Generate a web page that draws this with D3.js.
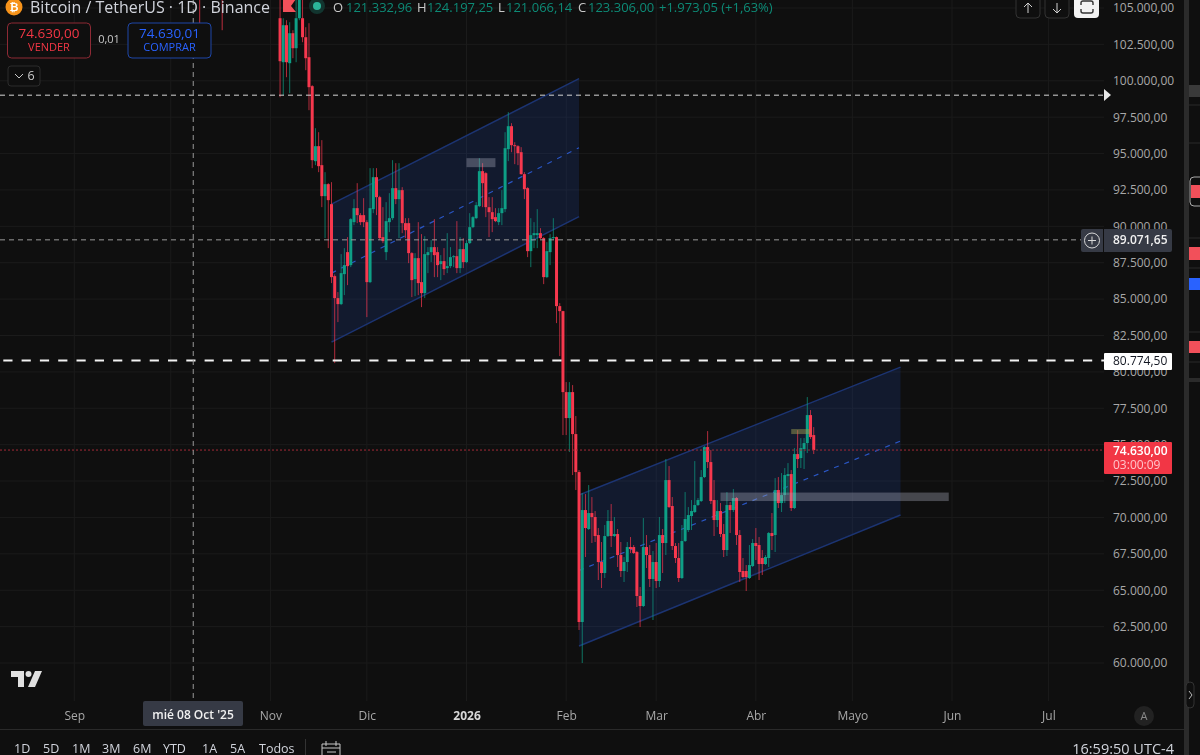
<!DOCTYPE html>
<html>
<head>
<meta charset="utf-8">
<script src="https://cdn.jsdelivr.net/npm/d3@7"></script>
<style>
html, body { margin: 0; padding: 0; background: #0f0f0f; overflow: hidden; }
svg { display: block; font-family: "Open Sans", sans-serif; filter: blur(0.3px); }
.domain { display: none; }
</style>
</head>
<body>
<svg id="chart" width="1200" height="755"></svg>
<script>
// daily candles, first one is 4 Nov 2025
const firstCandle = "2025-11-04";
const opens = [
  104299,101276,103818,101208,103268,102238,104299,104299,102994,101620,
  99629,94477,95507,94203,92074,92898,91524,86579,85068,84656,
  86716,88227,87335,90288,91249,90769,90769,90288,86167,91181,
  93378,92005,89258,88227,90288,90562,92623,91868,92486,90219,
  90219,88159,86373,87815,86167,85412,88021,88227,88571,88227,
  87403,87609,87129,87266,87884,87950,87129,88434,87541,88846,
  89944,90562,91387,93791,93653,91318,90975,90631,90288,90906,
  91181,95302,96881,95576,95507,95095,93585,92623,88296,89395,
  89395,89532,89189,86510,88227,89189,89258,84519,84175,78612,
  76827,78612,75728,73118,62816,70508,69203,70302,70027,68791,
  66937,66181,68722,69753,68722,68860,67417,66319,66937,67967,
  67967,67623,64602,63915,67967,67417,65769,66937,65632,68791,
  68242,72568,70783,68036,67211,65838,68379,69135,70096,70371,
  70851,71126,72775,74835,73805,71195,69821,70439,68860,67761,
  70851,70508,71332,68791,66319,66319,65838,66662,68242,68104,
  67211,66799,67211,68928,68791,71882,70989,71538,72843,72980,
  70645,74354,74080,74698,75110,77033,75659
];
const highs = [
  106000,104299,104161,104024,103474,105800,106500,106000,103680,103955,
  99698,96744,96469,95920,93722,92966,93035,86700,85480,88090,
  88502,89258,90562,91868,92966,90906,91936,90425,93997,93997,
  93997,92100,91318,91661,92280,94546,94340,94340,92692,90562,
  90562,88227,88159,90288,89464,89326,88571,89052,90494,88571,
  88021,88502,89532,88571,88021,90357,89258,89189,89052,90906,
  90700,91661,94683,94340,93722,92005,92005,91249,91249,92486,
  96469,97843,97087,95782,95576,95439,93722,92692,90562,90288,
  91181,89875,89258,88914,89464,90562,89300,84725,84200,79299,
  79299,79093,76964,73255,71676,71607,72225,71401,70439,69272,
  68310,69478,70508,70920,70027,69203,68310,67280,68310,68654,
  68104,67692,65220,69959,68791,68104,67692,68242,70027,69203,
  74011,73530,71401,68242,68242,69478,71744,70714,71195,73873,
  71332,73255,74904,75934,74629,72568,71195,70989,69547,71744,
  71057,71950,71401,69135,67211,66730,68104,68516,69272,68654,
  67761,67417,68997,70302,72706,72775,73049,73393,73736,73255,
  74766,76002,75453,75453,78269,77376,76208
];
const lows = [
  98873,99010,100246,99148,101551,101276,104161,102650,100727,97980,
  93997,94203,93722,91318,89189,88502,86098,80604,83420,84587,
  85274,85961,87197,90082,90219,90082,89944,83763,86098,90906,
  90769,89052,88846,87678,89601,90425,91524,89189,89532,89189,
  87472,85137,85205,85274,84450,85068,86785,87541,86510,86510,
  86304,86648,86785,87129,87197,86785,86785,87129,87472,88777,
  89875,90494,91318,91318,90631,89258,89601,90288,90082,90082,
  90975,94477,95095,94271,94203,93550,91868,87884,87197,88502,
  88502,89120,86029,86441,87335,89052,83351,81085,75659,75659,
  74491,72912,71882,62266,60000,67280,69135,68242,68310,65700,
  65151,65838,68654,67967,68654,66593,65906,65563,66250,67555,
  67486,63846,62472,63846,66525,65220,62953,65151,65220,66181,
  67417,70645,67761,66868,65563,65769,68310,68997,69135,70302,
  70783,71057,72706,73393,70920,68722,69340,68654,67280,67349,
  68928,70371,68104,65563,65850,64945,65769,66593,67074,65700,
  66044,66730,66593,67761,67623,70645,70371,70989,71538,70439,
  70576,73393,73393,73324,74423,75384,74354
];
const closes = [
  101345,103818,101276,103268,102238,104299,105700,102994,101551,99560,
  94546,95507,94134,92074,92898,91799,86510,85068,84656,86785,
  87335,87266,90494,91249,90769,90288,90288,86167,91249,93378,
  92005,89189,88983,90357,90562,92623,91868,92486,90219,89738,
  88159,86304,87815,86098,85412,88090,88227,88571,88021,87335,
  87609,87060,87266,87884,87950,87129,88434,87541,88846,89944,
  90631,91455,93791,92966,91318,90975,90494,90357,90906,91249,
  95370,96881,95576,95507,95027,93585,92554,88296,89395,89532,
  89532,89189,86510,88296,89189,89258,84519,84175,78612,76827,
  78612,75728,73118,62816,70508,69272,70302,70027,68722,66937,
  66181,68722,69753,68722,68860,67417,66319,66937,67967,67830,
  67555,64602,63915,67967,67417,65769,66937,65632,68791,68242,
  72568,70714,68036,67211,65838,68379,69890,70165,70439,70851,
  71195,72775,74835,73805,71126,69821,70439,68860,67761,70851,
  70508,71332,68791,66250,65906,65906,66730,68242,68036,66799,
  66799,67280,68928,68722,71882,70989,71538,72912,72980,70645,
  74354,74011,74766,75110,77033,75522,74630
];
// wicks of older candles that hang down into the chart
const olderDates = ["2025-10-10", "2025-10-17"];
const olderLows = [102000, 103474];

const priceTicks = [60000,62500,65000,67500,70000,72500,75000,77500,80000,82500,85000,87500,90000,92500,95000,97500,100000,102500,105000];
const monthTicks = ["2025-09-01","2025-11-01","2025-12-01","2026-01-01","2026-02-01","2026-03-01","2026-04-01","2026-05-01","2026-06-01","2026-07-01"];
const gridMonths = ["2025-09-01","2025-10-01","2025-11-01","2025-12-01","2026-01-01","2026-02-01","2026-03-01","2026-04-01","2026-05-01","2026-06-01","2026-07-01"];
const monthLabels = ["Sep","Nov","Dic","2026","Feb","Mar","Abr","Mayo","Jun","Jul"];

// drawings, [start date, end date] and prices at both ends
const channelDates = [["2025-11-20","2026-02-05"],["2026-02-05","2026-05-16"]];
const channelTop = [[91524,100143],[71538,80329]];
const channelBottom = [[82046,90666],[61168,70165]];
const boxDates = [["2026-01-01","2026-01-10"],["2026-03-21","2026-05-31"],["2026-04-12","2026-04-18"]];
const boxPrices = [[94683,94065],[71710,71126],[76071,75728]];
const boxFills = ["#a9adbd","#a9adbd","#9a9a50"];

const dottedPrice = 99011;
const crosshairPrice = 89071.65;
const crosshairDate = "2025-10-08";
const alertPrice = 80774.5;
const lastPrice = 74630;

const rangeButtons = ["1D","5D","1M","3M","6M","YTD","1A","5A","Todos"];
const rangeX = [14,43,72,102,133,163,202,230,259];

const BG = "#0f0f0f", GRID = "#1b1b1b", UP = "#0e9f86", DOWN = "#f7384e", AXIS = "#a8a8a8";
const parse = d3.utcParse("%Y-%m-%d");
const locale = d3.formatLocale({decimal: ",", thousands: ".", grouping: [3], currency: ["", ""]});
const fmt = locale.format(",.2f");

const svg = d3.select("#chart");
const x = d3.scaleUtc().domain([parse("2025-09-01"), parse("2026-07-01")]).range([74.3, 1048.4]);
const y = d3.scaleLinear().domain([60000, 105000]).range([663, 8]);
const plotRight = 1104;

function text(parent, tx, ty, str, size, color, anchor, weight){
    return parent.append("text").attr("x", tx).attr("y", ty).attr("dy", "0.35em")
        .attr("text-anchor", anchor || "start").attr("font-size", size)
        .attr("font-weight", weight || 400).attr("fill", color).text(str);
}

function drawGrid(){
    let g = svg.append("g");
    g.selectAll(".h").data(priceTicks).enter().append("line")
        .attr("x1", 0).attr("x2", plotRight).attr("y1", d=>y(d)).attr("y2", d=>y(d)).attr("stroke", GRID);
    g.selectAll(".v").data(gridMonths).enter().append("line")
        .attr("x1", d=>x(parse(d))).attr("x2", d=>x(parse(d))).attr("y1", 0).attr("y2", 701).attr("stroke", GRID);
}

function drawChannels(){
    let g = svg.append("g");
    channelDates.forEach((dates, i)=>{
        let x0 = x(parse(dates[0])), x1 = x(parse(dates[1]));
        let t = channelTop[i], b = channelBottom[i];
        g.append("polygon")
            .attr("points", [[x0,y(t[0])],[x1,y(t[1])],[x1,y(b[1])],[x0,y(b[0])]].join(" "))
            .attr("fill", "#2962ff").attr("fill-opacity", 0.13);
        [t, b].forEach(p=>{
            g.append("line").attr("x1", x0).attr("x2", x1).attr("y1", y(p[0])).attr("y2", y(p[1]))
                .attr("stroke", "#1c3472").attr("stroke-width", 1.5);
        });
        g.append("line").attr("x1", x0).attr("x2", x1)
            .attr("y1", y((t[0]+b[0])/2)).attr("y2", y((t[1]+b[1])/2))
            .attr("stroke", "#2a56c4").attr("stroke-width", 1.2).attr("stroke-dasharray", "5 6");
    });
}

function drawCandles(){
    const start = parse(firstCandle);
    let data = closes.map((c, i)=>({date: d3.utcDay.offset(start, i), o: opens[i], h: highs[i], l: lows[i], c: c}));
    let g = svg.append("g");
    let older = svg.append("g");
    olderDates.forEach((d, i)=>{
        older.append("line").attr("x1", x(parse(d))).attr("x2", x(parse(d)))
            .attr("y1", y(110000)).attr("y2", y(olderLows[i]))
            .attr("stroke", DOWN).attr("stroke-opacity", 0.75);
    });
    let c = g.selectAll("g").data(data).enter().append("g");
    c.append("line")
        .attr("x1", d=>x(d.date)).attr("x2", d=>x(d.date))
        .attr("y1", d=>y(d.h)).attr("y2", d=>y(d.l))
        .attr("stroke", d=>d.c>=d.o ? UP : DOWN).attr("stroke-opacity", 0.7);
    c.append("rect")
        .attr("x", d=>x(d.date)-1.5).attr("width", 3)
        .attr("y", d=>y(Math.max(d.o, d.c)))
        .attr("height", d=>Math.max(1, Math.abs(y(d.o)-y(d.c))))
        .attr("fill", d=>d.c>=d.o ? UP : DOWN);
}

function drawBoxes(){
    boxDates.forEach((dates, i)=>{
        let x0 = x(parse(dates[0])), x1 = x(parse(dates[1]));
        svg.append("rect").attr("x", x0).attr("width", x1-x0)
            .attr("y", y(boxPrices[i][0])).attr("height", y(boxPrices[i][1])-y(boxPrices[i][0]))
            .attr("fill", boxFills[i]).attr("fill-opacity", i==2 ? 0.5 : 0.36);
    });
}

function drawLevels(){
    function level(price, x2, color, width, dash, offset){
        svg.append("line").attr("x1", 0).attr("x2", x2).attr("y1", y(price)).attr("y2", y(price))
            .attr("stroke", color).attr("stroke-width", width).attr("stroke-dasharray", dash)
            .attr("stroke-dashoffset", offset || 0);
    }
    level(dottedPrice, 1103, "#d8d8d8", 1, "5 4");
    level(crosshairPrice, 1081, "#9a9a9a", 1, "5 4");
    level(alertPrice, plotRight, "#f2f2f2", 2, "9.2 9.1", 15);
    level(lastPrice, plotRight, "#a52a38", 1, "2 2");
    svg.append("line").attr("x1", x(parse(crosshairDate))).attr("x2", x(parse(crosshairDate)))
        .attr("y1", 0).attr("y2", 701).attr("stroke", "#9a9a9a").attr("stroke-dasharray", "5 4");
}

function drawAxes(){
    // panel behind the axes so that candles above never run into them
    svg.append("rect").attr("x", plotRight).attr("y", 0).attr("width", 96).attr("height", 755).attr("fill", BG);
    svg.append("rect").attr("x", 0).attr("y", 701).attr("width", 1200).attr("height", 54).attr("fill", BG);

    let yAxis = d3.axisRight(y).tickValues(priceTicks).tickSize(0).tickPadding(0).tickFormat(fmt);
    let ya = svg.append("g").attr("transform", "translate(1113,0)").call(yAxis);
    ya.selectAll("text").attr("fill", AXIS).attr("font-size", 12).attr("font-family", "Open Sans");

    let xAxis = d3.axisBottom(x).tickValues(monthTicks.map(parse)).tickSize(0).tickPadding(0)
        .tickFormat((d,i)=>monthLabels[i]);
    let xa = svg.append("g").attr("transform", "translate(0,711)").call(xAxis);
    xa.selectAll("text").attr("fill", AXIS).attr("font-size", 12).attr("font-family", "Open Sans")
        .attr("font-weight", (d,i)=>monthLabels[i]==="2026" ? 700 : 400)
        .attr("fill", (d,i)=>monthLabels[i]==="2026" ? "#d8d8d8" : AXIS);

    svg.append("line").attr("x1", 0).attr("x2", 1184).attr("y1", 729.5).attr("y2", 729.5).attr("stroke", "#2a2a2a");
    svg.append("path").attr("d", "M1104,89 L1111,95 L1104,101 Z").attr("fill", "#e8e8e8");
}

function drawPriceLabels(){
    // crosshair price
    svg.append("rect").attr("x", 1081).attr("y", 229).attr("width", 91).attr("height", 23).attr("rx", 2).attr("fill", "#363a45");
    svg.append("line").attr("x1", 1103.5).attr("x2", 1103.5).attr("y1", 229).attr("y2", 252).attr("stroke", BG);
    svg.append("circle").attr("cx", 1092).attr("cy", 240.5).attr("r", 7.5).attr("fill", "none").attr("stroke", "#d8d8d8");
    svg.append("path").attr("d", "M1088,240.5H1096M1092,236.5V244.5").attr("stroke", "#d8d8d8");
    text(svg, 1113, 240, fmt(crosshairPrice), 12, "#f0f0f0", "start", 600);
    // alert line
    svg.append("rect").attr("x", 1104).attr("y", 353).attr("width", 68).attr("height", 17).attr("rx", 1).attr("fill", "#fff");
    text(svg, 1113, 361, fmt(alertPrice), 12, "#131722");
    // last price and countdown
    svg.append("rect").attr("x", 1104).attr("y", 442).attr("width", 68).attr("height", 32).attr("rx", 1).attr("fill", "#f23645");
    text(svg, 1113, 451, fmt(lastPrice), 12, "#fff", "start", 600);
    text(svg, 1113, 465, "03:00:09", 12, "#ffc4cb");
    // date under the crosshair
    svg.append("rect").attr("x", 143).attr("y", 701).attr("width", 100).attr("height", 25).attr("rx", 2).attr("fill", "#363a45");
    text(svg, 193, 715, "mié 08 Oct '25", 12, "#f0f0f0", "middle", 600);
}

function drawHeader(){
    svg.append("circle").attr("cx", 14).attr("cy", 7).attr("r", 8.5).attr("fill", "#f7931a");
    text(svg, 14, 7, "₿", 11, "#fff", "middle", 700);
    text(svg, 30, 7, "Bitcoin / TetherUS · 1D · Binance", 16, "#d1d4dc");
    svg.append("path").attr("d", "M283,-1H296L291,6L296,12H283Z").attr("fill", "#f2505a");
    svg.append("circle").attr("cx", 317).attr("cy", 6).attr("r", 8).attr("fill", "#12352f");
    svg.append("circle").attr("cx", 317).attr("cy", 6).attr("r", 4).attr("fill", "#2bb59a");

    const TEAL = "#0d8a76", LETTER = "#c8c8c8";
    const ohlc = [["O",333,346,"121.332,96"],["H",417,427,"124.197,25"],["L",498,506,"121.066,14"],["C",578,588,"123.306,00"]];
    ohlc.forEach(o=>{
        text(svg, o[1], 7, o[0], 13, LETTER);
        text(svg, o[2], 7, o[3], 13, TEAL);
    });
    text(svg, 659, 7, "+1.973,05 (+1,63%)", 13, TEAL);

    function tradeBox(bx, bw, border, color, price, label){
        svg.append("rect").attr("x", bx).attr("y", 23).attr("width", bw).attr("height", 35).attr("rx", 4)
            .attr("fill", BG).attr("stroke", border).attr("stroke-width", 1);
        text(svg, bx+bw/2, 33, price, 13.5, color, "middle");
        text(svg, bx+bw/2, 47, label, 11, color, "middle");
    }
    tradeBox(7.5, 83, "#8e2a35", "#f23645", "74.630,00", "VENDER");
    tradeBox(128, 83, "#1f47a8", "#2962ff", "74.630,01", "COMPRAR");
    text(svg, 109, 39, "0,01", 11, "#c8c8c8", "middle");

    svg.append("rect").attr("x", 8).attr("y", 66).attr("width", 32).attr("height", 20).attr("rx", 3)
        .attr("fill", BG).attr("stroke", "#2c2c2c");
    svg.append("path").attr("d", "M15,74L19,78L23,74").attr("fill", "none").attr("stroke", "#c8c8c8");
    text(svg, 31, 76, "6", 12.5, "#c8c8c8", "middle");

    // buttons at the top right
    [[1016,"M1028,3V13M1024,7L1028,3L1032,7"],[1045,"M1057,3V13M1053,9L1057,13L1061,9"]].forEach(b=>{
        svg.append("rect").attr("x", b[0]).attr("y", -4).attr("width", 24).attr("height", 22).attr("rx", 4)
            .attr("fill", BG).attr("stroke", "#333");
        svg.append("path").attr("d", b[1]).attr("fill", "none").attr("stroke", "#d0d0d0");
    });
    svg.append("rect").attr("x", 1074).attr("y", -4).attr("width", 25).attr("height", 22).attr("rx", 4).attr("fill", "#f2f2f2");
    svg.append("path").attr("d", "M1081,5V3Q1081,1 1083,1H1091Q1093,1 1093,3V5M1081,9V11Q1081,13 1083,13H1091Q1093,13 1093,11V9")
        .attr("fill", "none").attr("stroke", "#333").attr("stroke-width", 1.4);

    // logo
    svg.append("path").attr("d", "M11,671H24V687H18V677H11Z").attr("fill", "#e0e0e0");
    svg.append("circle").attr("cx", 28.5).attr("cy", 674).attr("r", 3).attr("fill", "#e0e0e0");
    svg.append("path").attr("d", "M35,671H42L35,687H28Z").attr("fill", "#e0e0e0");
}

function drawFooter(){
    rangeButtons.forEach((b, i)=>{
        text(svg, rangeX[i], 749, b, 12.5, "#d1d4dc");
    });
    svg.append("line").attr("x1", 305.5).attr("x2", 305.5).attr("y1", 739).attr("y2", 755).attr("stroke", "#333");
    svg.append("path").attr("d", "M322,744H340V755M322,755V744M326,741V746M336,741V746M322,748H340M327,752H336")
        .attr("fill", "none").attr("stroke", "#c8c8c8");
    text(svg, 1174, 749, "16:59:50 UTC-4", 14.5, "#d1d4dc", "end");

    svg.append("circle").attr("cx", 1144).attr("cy", 716).attr("r", 10).attr("fill", "#222");
    text(svg, 1144, 716, "A", 11, "#8a8a8a", "middle");
}

function drawSidebar(){
    svg.append("rect").attr("x", 1184).attr("y", 0).attr("width", 5).attr("height", 755).attr("fill", "#2b2b2b");
    svg.append("rect").attr("x", 1186).attr("y", 682).attr("width", 8).attr("height", 26).attr("rx", 4)
        .attr("fill", BG).attr("stroke", "#333");
    svg.append("path").attr("d", "M1189,691L1192,695L1189,699").attr("fill", "none").attr("stroke", "#bbb");
    const tabY = [105,143,238,268,332,362];
    tabY.forEach(t=>{
        svg.append("line").attr("x1", 1189).attr("x2", 1200).attr("y1", t).attr("y2", t).attr("stroke", "#2b2b2b");
    });
    svg.append("rect").attr("x", 1189).attr("y", 85).attr("width", 11).attr("height", 12).attr("fill", "#3a3a3a");
    svg.append("rect").attr("x", 1190).attr("y", 177).attr("width", 14).attr("height", 29).attr("rx", 4)
        .attr("fill", BG).attr("stroke", "#aaa");
    svg.append("rect").attr("x", 1191).attr("y", 185).attr("width", 10).attr("height", 13).attr("fill", "#f2505a");
    svg.append("rect").attr("x", 1189).attr("y", 247).attr("width", 11).attr("height", 13).attr("fill", "#f2505a");
    svg.append("rect").attr("x", 1189).attr("y", 278).attr("width", 11).attr("height", 12).attr("fill", "#2962ff");
    svg.append("rect").attr("x", 1189).attr("y", 341).attr("width", 11).attr("height", 12).attr("fill", "#f2505a");
    svg.append("rect").attr("x", 1189).attr("y", 378).attr("width", 11).attr("height", 4).attr("fill", "#2b2b2b");
}

drawGrid();
drawChannels();
drawCandles();
drawBoxes();
drawLevels();
drawAxes();
drawPriceLabels();
drawHeader();
drawFooter();
drawSidebar();
</script>
</body>
</html>
